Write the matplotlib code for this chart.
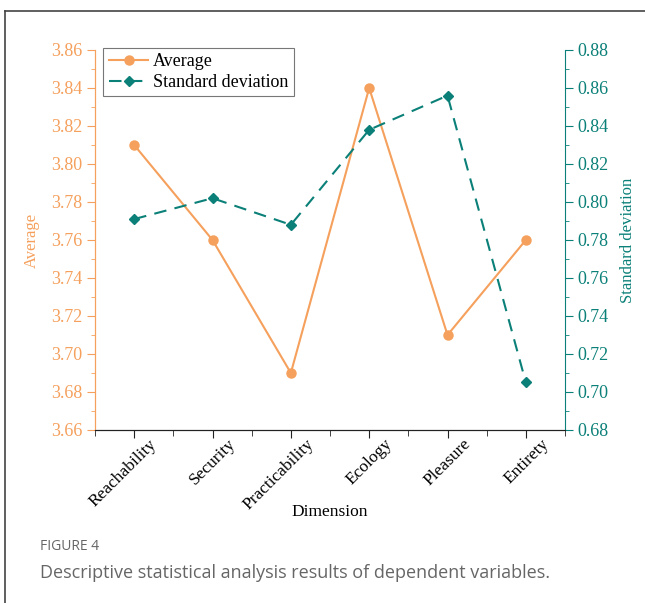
import matplotlib.pyplot as plt
from matplotlib.lines import Line2D
from matplotlib.ticker import MultipleLocator, FixedLocator, FormatStrFormatter

dimensions = ['Reachability', 'Security', 'Practicability', 'Ecology', 'Pleasure', 'Entirety']
average = [3.81, 3.76, 3.69, 3.84, 3.71, 3.76]
std_dev = [0.791, 0.802, 0.788, 0.838, 0.856, 0.705]

orange = '#F5A05C'
teal = '#0B8078'
plt.rcParams['font.family'] = ['Liberation Serif', 'DejaVu Serif']
sans = ['Open Sans', 'DejaVu Sans']

fig = plt.figure(figsize=(6.45, 6.03), dpi=100)
ax = fig.add_axes([0.1473, 0.2869, 0.7287, 0.6302])
ax2 = ax.twinx()

x = list(range(len(dimensions)))
l1, = ax.plot(x, average, color=orange, lw=1.5, marker='o', ms=6.5, label='Average')
l2, = ax2.plot(x, std_dev, color=teal, lw=1.5, ls=(0, (6, 4)), marker='D', ms=5,
               label='Standard deviation')

ax.set_xlim(-0.5, 5.5)
ax.set_ylim(3.66, 3.86)
ax2.set_ylim(0.68, 0.88)

# left axis in orange, right axis in teal
for a, c in ((ax, orange), (ax2, teal)):
    a.yaxis.set_major_locator(MultipleLocator(0.02))
    a.yaxis.set_minor_locator(MultipleLocator(0.01))
    a.yaxis.set_major_formatter(FormatStrFormatter('%.2f'))
    a.tick_params(axis='y', which='both', colors=c, labelsize=13, direction='out', pad=3)
    a.tick_params(axis='y', which='major', length=6)
    a.tick_params(axis='y', which='minor', length=3)
ax.set_ylabel('Average', color=orange, fontsize=12, labelpad=8)
ax2.set_ylabel('Standard deviation', color=teal, fontsize=12, labelpad=8)

# category axis; names rotated with their upper end just right of each tick
ax.set_xticks(x)
ax.set_xticklabels([])
ax.xaxis.set_minor_locator(FixedLocator([i - 0.5 for i in range(len(dimensions) + 1)]))
ax.tick_params(axis='x', which='major', length=6, direction='out', color='#222222')
ax.tick_params(axis='x', which='minor', length=4, direction='out', color='#222222')
for i, name in zip(x, dimensions):
    ax.annotate(name, xy=(i, 0), xycoords=ax.get_xaxis_transform(),
                xytext=(26, -6), textcoords='offset pixels',
                rotation=45, ha='right', va='top', fontsize=12.5)
ax.set_xlabel('Dimension', fontsize=12.5, va='top')
ax.xaxis.set_label_coords(0.5, -0.195)

for a in (ax, ax2):
    a.spines['top'].set_visible(False)
    a.spines['left'].set_color(orange)
    a.spines['bottom'].set_color('#222222')
ax.spines['right'].set_visible(False)
ax2.spines['right'].set_color(teal)

leg = ax.legend(handles=[l1, l2], loc='upper left', bbox_to_anchor=(0.01, 1.015),
                fontsize=13, fancybox=False, edgecolor='#555555', borderpad=0.3,
                handlelength=2.2, handletextpad=0.25, labelspacing=0.2, borderaxespad=0.2)
leg.get_frame().set_linewidth(0.8)

# outer frame
fig.add_artist(Line2D([5 / 645, 5 / 645], [0, 1 - 11 / 603], color='#444444', lw=1.2))
fig.add_artist(Line2D([5 / 645, 1], [1 - 11 / 603, 1 - 11 / 603], color='#444444', lw=1.2))

fig.text(40 / 645, 1 - 547 / 603, 'FIGURE 4', fontsize=10, color='#666666',
         family=sans, va='center')
fig.text(40 / 645, 1 - 573 / 603, 'Descriptive statistical analysis results of dependent variables.',
         fontsize=13, color='#666666', family=sans, va='center')

fig.savefig('out.png', dpi=100)
